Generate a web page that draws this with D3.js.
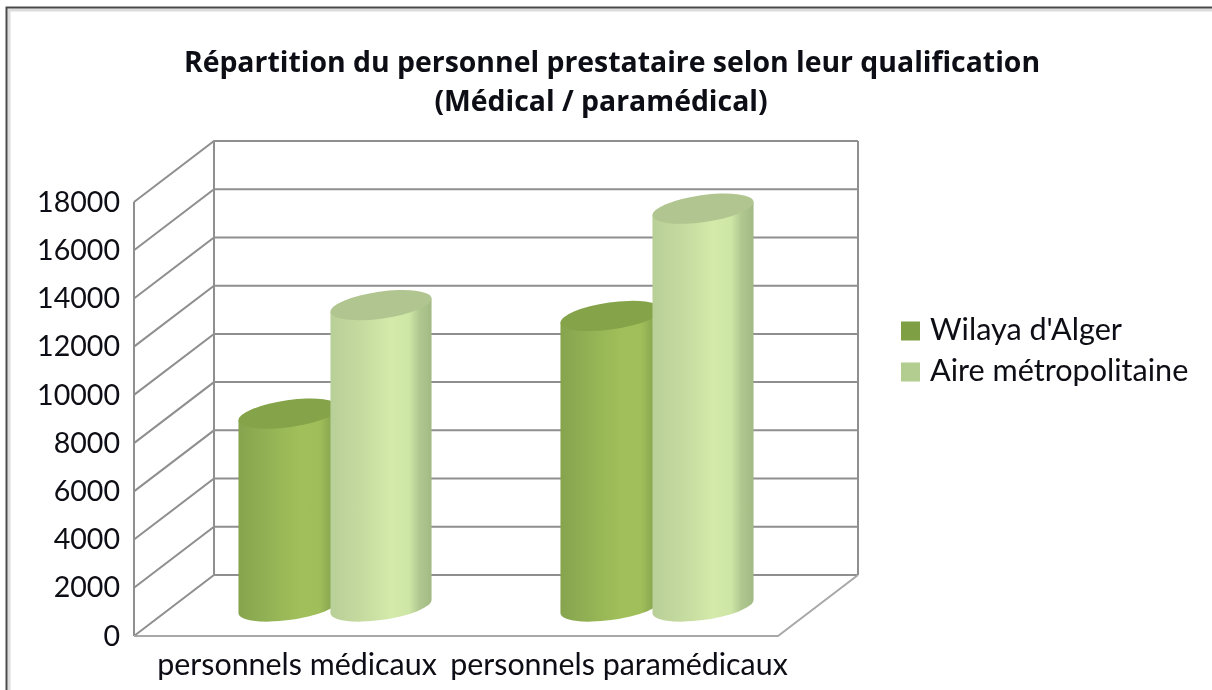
<!DOCTYPE html>
<html><head><meta charset="utf-8">
<script src="https://cdn.jsdelivr.net/npm/d3@7"></script>
<style>html,body{margin:0;background:#fff;overflow:hidden}svg{display:block}text{fill:#0a0a12}</style>
</head><body><svg id="c" width="1212" height="690"></svg>
<script>
const categories = ["personnels médicaux", "personnels paramédicaux"];
const seriesNames = ["Wilaya d'Alger", "Aire métropolitaine"];
const wilaya = [8000, 12050];
const aire = [12500, 16500];
const yTicks = [0,2000,4000,6000,8000,10000,12000,14000,16000,18000];
const titleLines = ["Répartition du personnel prestataire selon leur qualification", "(Médical / paramédical)"];

const svg = d3.select("#c");
const L=134,R=778,B=636,T=202,DX=80,DY=-61;
const font="Lato, 'Open Sans', sans-serif";
const y=d3.scaleLinear().domain([0,18000]).range([B,T]);
const x=d3.scaleBand().domain(categories).range([L,R]);
const offs=d3.scaleBand().domain(seriesNames).range([-92,92]);

const defs=svg.append("defs");
defs.append("filter").attr("id","soft").attr("x","-5%").attr("y","-5%").attr("width","110%").attr("height","110%")
  .append("feGaussianBlur").attr("stdDeviation",0.6);
const root=svg.append("g").attr("filter","url(#soft)");

// frame
root.append("rect").attr("x",9).attr("y",10).attr("width",1210).attr("height",690).attr("fill","none").attr("stroke","#dcdcdc").attr("stroke-width",3);
root.append("path").attr("d","M6.5,690V7.5H1212").attr("fill","none").attr("stroke","#4a4a4a").attr("stroke-width",2);

// gradients
function grad(id,stops){const g=defs.append("linearGradient").attr("id",id);
 stops.forEach(s=>g.append("stop").attr("offset",s[0]).attr("stop-color",s[1]));}
grad("g0",[[0,"#86a44e"],[.3,"#93b254"],[.6,"#a1c05b"],[.8,"#a0bf5a"],[.92,"#88a64e"],[1,"#84a24c"]]);
grad("g1",[[0,"#b8cf98"],[.3,"#c5da9f"],[.6,"#d3eaaa"],[.78,"#cde5a5"],[.88,"#b0c890"],[1,"#a2b983"]]);
const tops=["#85a348","#b0c58f"], swatch=["#7f9f45","#b3cc8f"];

// walls
const grid=root.append("g").attr("fill","none").attr("stroke","#8f8f8f").attr("stroke-width",2);
yTicks.forEach(t=>{
  grid.append("path").attr("d",`M${L},${y(t)}L${L+DX},${y(t)+DY}H${R+DX}`);
});
grid.append("path").attr("d",`M${L},${y(0)}V${y(18000)}`);
grid.append("path").attr("d",`M${L+DX},${y(0)+DY}V${y(18000)+DY}`);
grid.append("path").attr("d",`M${R+DX},${y(0)+DY}V${y(18000)+DY}`);
grid.append("path").attr("d",`M${L},${B}H${R}L${R+DX},${B+DY}`).attr("stroke","#a8a8a8");

// cylinders
const deg=-8,rx=51,ry=13.5,rot=deg*Math.PI/180;
const ext=Math.sqrt(rx*rx*Math.cos(rot)**2+ry*ry*Math.sin(rot)**2);
const tan=(rx*rx-ry*ry)*Math.sin(rot)*Math.cos(rot)/ext;
[wilaya,aire].forEach((vals,si)=>{
  vals.forEach((v,ci)=>{
    const cx=x(categories[ci])+x.bandwidth()/2+DX/2+offs(seriesNames[si])+offs.bandwidth()/2;
    const yb=y(0)+DY/2+1, yt=y(v)+DY/2+1;
    const g=root.append("g");
    g.append("path").attr("fill",`url(#g${si})`)
     .attr("d",`M${cx-ext},${yt-tan}V${yb-tan}A${rx},${ry} ${deg} 0 0 ${cx+ext},${yb+tan}V${yt+tan}Z`);
    g.append("ellipse").attr("cx",cx).attr("cy",yt).attr("rx",rx).attr("ry",ry)
     .attr("fill",tops[si]).attr("transform",`rotate(${deg} ${cx} ${yt})`);
  });
});

// axis labels
const ax=root.append("g").attr("transform","translate(120,0)").call(d3.axisLeft(y).tickValues(yTicks).tickSize(0).tickPadding(0).tickFormat(d3.format("d")));
ax.select(".domain").remove();
ax.selectAll("text").attr("font-family",font).attr("font-size",28.6).attr("fill","#0a0a12");

const xa=root.append("g");
xa.selectAll("text").data(categories).join("text").attr("x",d=>x(d)+x.bandwidth()/2+2).attr("y",675)
  .attr("text-anchor","middle").attr("font-family",font).attr("font-size",30.4).text(d=>d);

// title
root.selectAll(".t").data(titleLines).join("text").attr("class","t")
  .attr("x",(d,i)=>[612,601][i]).attr("y",(d,i)=>[72,111][i]).attr("text-anchor","middle")
  .attr("font-family","'Open Sans',sans-serif").attr("font-weight",700).attr("font-size",28.4).text(d=>d);

// legend
seriesNames.forEach((n,i)=>{
  const yy=[331,372][i];
  root.append("rect").attr("x",901).attr("y",yy-9.5).attr("width",19).attr("height",19).attr("fill",swatch[i]);
  root.append("text").attr("x",930).attr("y",[340,381][i]).attr("font-family",font).attr("font-size",30.6).text(n);
});
</script></body></html>
